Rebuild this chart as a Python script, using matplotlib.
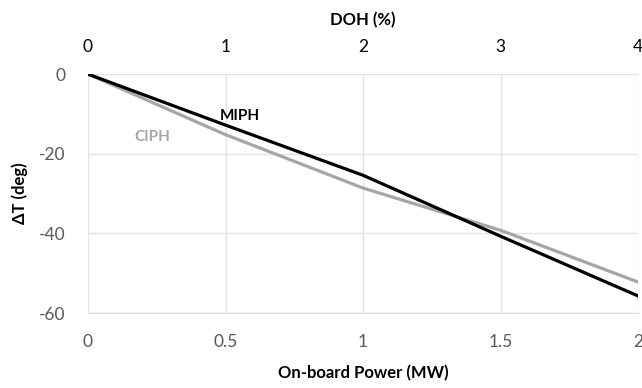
import matplotlib
matplotlib.use("Agg")
import matplotlib.pyplot as plt

# data
power = [0, 0.5, 1, 1.5, 2]
miph = [0, -12.8, -25.4, -40.7, -55.7]
ciph = [0, -15.2, -28.6, -39.2, -52.2]

plt.rcParams["font.family"] = ["Lato", "DejaVu Sans"]
plt.rcParams["axes.unicode_minus"] = False

fig = plt.figure(figsize=(6.42, 3.88), dpi=100)
ax = fig.add_axes([0.137, 0.193, 0.857, 0.616])

ax.plot(power, ciph, color="#a6a6a6", linewidth=2.3)
ax.plot(power, miph, color="black", linewidth=2.3)

ax.set_xlim(0, 2)
ax.set_ylim(-60, 0)
ax.set_xticks([0, 0.5, 1, 1.5, 2])
ax.set_xticklabels(["0", "0.5", "1", "1.5", "2"])
ax.set_yticks([0, -20, -40, -60])
ax.grid(True, color="#e3e3e3", linewidth=1)
ax.set_axisbelow(True)
for s in ["top", "right", "left"]:
    ax.spines[s].set_visible(False)
ax.spines["bottom"].set_color("#d9d9d9")
ax.tick_params(axis="x", length=0, labelsize=12.5, colors="#595959", pad=15)
ax.tick_params(axis="y", length=0, labelsize=12.5, colors="#595959", pad=16)
ax.set_xlabel("On-board Power (MW)", fontsize=12, fontweight="bold", labelpad=11)
ax.set_ylabel("ΔT (deg)", fontsize=12, fontweight="bold", labelpad=8)

ax.text(0.48, -11.5, "MIPH", fontsize=11, fontweight="bold", color="black")
ax.text(0.17, -16.8, "CIPH", fontsize=11, fontweight="bold", color="#a6a6a6")

# secondary top axis
ax2 = ax.twiny()
ax2.set_xlim(0, 4)
ax2.set_xticks([0, 1, 2, 3, 4])
for s in ax2.spines.values():
    s.set_visible(False)
ax2.tick_params(length=0, labelsize=12.5, colors="black", pad=14)
ax2.set_xlabel("DOH (%)", fontsize=12, fontweight="bold", labelpad=10)

fig.savefig("out.png", dpi=100)
